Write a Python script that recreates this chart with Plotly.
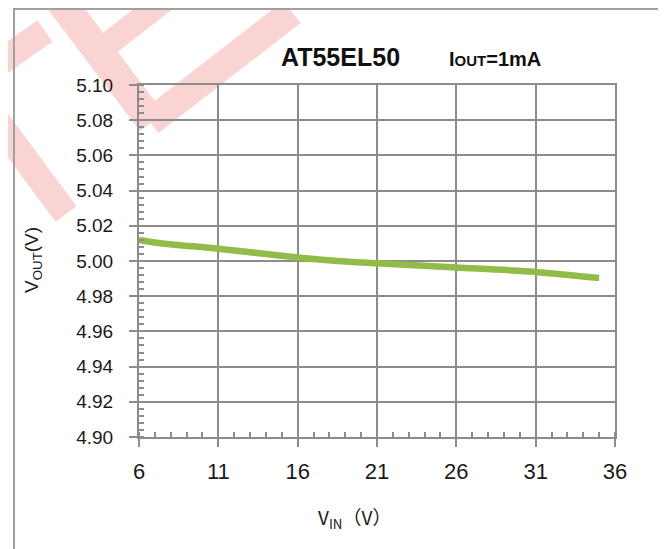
import plotly.graph_objects as go

# Data
vin = [6, 7.5, 11, 16, 18.5, 21, 26, 31, 35]
vout = [5.012, 5.010, 5.007, 5.002, 5.000, 4.9987, 4.9963, 4.9938, 4.9903]
x_ticks = [6, 11, 16, 21, 26, 31, 36]
y_ticks = [4.90, 4.92, 4.94, 4.96, 4.98, 5.00, 5.02, 5.04, 5.06, 5.08, 5.10]

PAGE_W, PAGE_H = 666, 549
OFF = 8  # default body margin of the page
W, H = PAGE_W - OFF, PAGE_H - OFF
L, R, T, B = 139, 615, 85, 437  # plot area in page pixels


def px(x):
    return (x - L) / (R - L)


def py(y):
    return (B - y) / (B - T)


fig = go.Figure()
fig.add_trace(go.Scatter(
    x=vin, y=vout, mode="lines",
    line=dict(color="#92bb47", width=6.5, shape="spline", smoothing=0.8),
    showlegend=False, hoverinfo="skip",
))

grid = "#8c8c8c"
font_family = "Liberation Sans, Arial, sans-serif"

fig.update_layout(
    width=W, height=H,
    margin=dict(l=L - OFF, r=PAGE_W - R, t=T - OFF, b=PAGE_H - B, autoexpand=False),
    paper_bgcolor="white",
    plot_bgcolor="rgba(0,0,0,0)",
    font=dict(family=font_family, color="#222222"),
    xaxis=dict(
        range=[6, 36], tickvals=x_ticks, ticktext=[str(v) for v in x_ticks],
        showgrid=True, gridcolor=grid, gridwidth=2,
        showline=True, linecolor=grid, linewidth=2, mirror=True,
        ticks="outside", ticklen=8, tickwidth=2, tickcolor=grid,
        tickfont=dict(size=22, color="#1a1a1a"), ticklabelstandoff=6,
        zeroline=False,
        minor=dict(dtick=1, tick0=6, ticks="inside", ticklen=5, tickwidth=1.5,
                   tickcolor=grid, showgrid=False),
    ),
    yaxis=dict(
        range=[4.90, 5.10], tickvals=y_ticks, ticktext=[f"{v:.2f}" for v in y_ticks],
        showgrid=True, gridcolor=grid, gridwidth=2,
        showline=True, linecolor=grid, linewidth=2, mirror=True,
        ticks="outside", ticklen=8, tickwidth=2, tickcolor=grid,
        tickfont=dict(size=19, color="#1a1a1a"), ticklabelstandoff=12,
        zeroline=False,
        minor=dict(dtick=0.004, tick0=4.90, ticks="inside", ticklen=5, tickwidth=1.5,
                   tickcolor=grid, showgrid=False),
    ),
)

# Watermark bands (light red), page pixel coordinates
wm = "#fad3d3"
bands = [
    ((52, -10), (152, 122), 30),
    ((98, 52), (175, -8), 24),
    ((150, 122), (292, 12), 28),
    ((-5, 66), (45, 31), 26),
    ((-5, 118), (66, 214), 26),
]
for (x0, y0), (x1, y1), w in bands:
    fig.add_shape(type="line", xref="paper", yref="paper",
                  x0=px(x0), y0=py(y0), x1=px(x1), y1=py(y1),
                  line=dict(color=wm, width=w), layer="below")

# Outer chart border
fig.add_shape(type="rect", xref="paper", yref="paper",
              x0=px(14), y0=py(9), x1=px(659), y1=py(580),
              line=dict(color="#a0a0a0", width=2), fillcolor="rgba(0,0,0,0)",
              layer="below")

# Titles
fig.add_annotation(text="<b>AT55EL50</b>", xref="paper", yref="paper",
                   x=px(340), y=py(57), xanchor="center", yanchor="middle",
                   showarrow=False,
                   font=dict(size=25, color="#111111", family=font_family))
fig.add_annotation(text="<b>I<span style='font-size:15px'>OUT</span>=1mA</b>",
                   xref="paper", yref="paper", x=px(495), y=py(59),
                   xanchor="center", yanchor="middle", showarrow=False,
                   font=dict(size=20, color="#111111", family=font_family))

# Axis titles
fig.add_annotation(text="V<sub>OUT</sub>(V)", xref="paper", yref="paper",
                   x=px(33), y=py(260), xanchor="center", yanchor="middle",
                   showarrow=False, textangle=-90,
                   font=dict(size=19, color="#1a1a1a", family=font_family))
fig.add_annotation(text="V<sub>IN</sub>（V）", xref="paper", yref="paper",
                   x=px(354), y=py(518), xanchor="center", yanchor="middle",
                   showarrow=False,
                   font=dict(size=19, color="#1a1a1a",
                             family="Noto Sans CJK SC, Noto Sans, sans-serif"))

fig.write_html("out.html")
